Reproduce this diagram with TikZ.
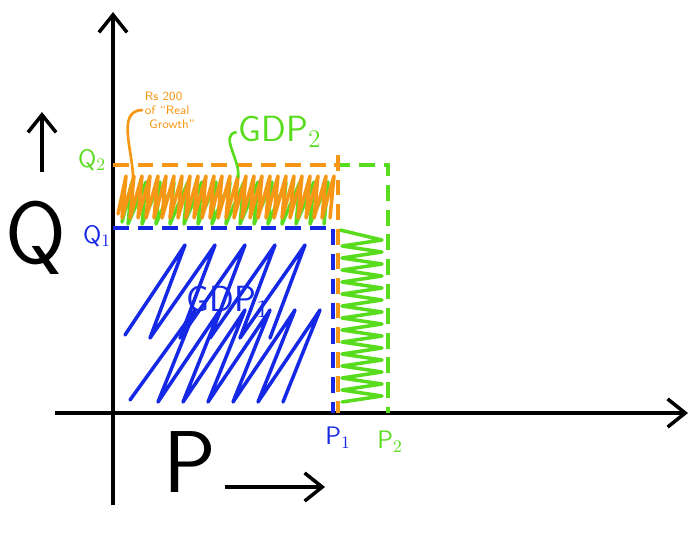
\documentclass[tikz,border=0pt]{standalone}
\usepackage{tikz}
\usetikzlibrary{positioning,arrows.meta}

\definecolor{penblue}{RGB}{20,40,230}
\definecolor{pengreen}{RGB}{90,220,30}
\definecolor{penorange}{RGB}{245,150,20}

\tikzset{
    axis/.style={line width=2pt, -{Straight Barb[length=10pt,width=16pt]}},
    dashline/.style={line width=2pt, dash pattern=on 9pt off 5pt},
    scribble/.style={line width=2pt, line join=round, line cap=round},
    hand/.style={font=\sffamily\Large, inner sep=1pt},
    bigletter/.style={font=\sffamily\fontsize{50}{50}\selectfont, inner sep=0pt}
}

\begin{document}
\begin{tikzpicture}[x=0.02cm,y=-0.02cm]
    \useasboundingbox (0,0) rectangle (700,532);

    % axes
    \coordinate (origin) at (113,413);
    \draw[axis] (113,505) -- (113,12);
    \draw[axis] (55,413) -- (688,413);

    % hatching (drawn first, dashes on top)
    \draw[scribble, penblue] (125,335)
        \foreach \i in {0,...,4} { -- ({185+30*\i},245) -- ({150+30*\i},338) };
    \draw[scribble, penblue] (130,400)
        \foreach \i in {0,...,5} { -- ({195+25*\i},310) -- ({158+25*\i},402) };
    \draw[scribble, pengreen] (122,222)
        \foreach \i in {0,...,14} { -- ({132+14*\i},182) -- ({128+14*\i},224) };
    \draw[scribble, pengreen] (340,230)
        \foreach \i in {0,...,13} { -- (382,{240+12*\i}) -- (342,{246+12*\i}) };
    \draw[scribble, penorange] (118,214)
        \foreach \i in {0,...,26} { -- ({126+8*\i},176) -- ({122+8*\i},218) };

    % price and quantity levels
    \draw[dashline, pengreen] (113,165) -- (388,165) -- (388,413);
    \draw[dashline, penorange] (113,165) -- (338,165);
    \draw[dashline, penorange] (338,155) -- (338,413);
    \draw[dashline, penblue] (113,228) -- (333,228) -- (333,413);

    % labels
    \node[hand, penblue] (pone) at (338,438) {P$_1$};
    \node[hand, pengreen] (ptwo) at (390,442) {P$_2$};
    \node[hand, pengreen] (qtwo) at (92,160) {Q$_2$};
    \node[hand, penblue] (qone) at (97,236) {Q$_1$};
    \node[hand, penblue, font=\sffamily\huge] (gdpone) at (228,302) {GDP$_1$};
    \node[hand, pengreen, font=\sffamily\huge] (gdptwo) at (280,132) {GDP$_2$};
    \node[hand, penorange, font=\sffamily\scriptsize, align=left] (note) at (170,110)
        {Rs 200\\ of ``Real\\ \ Growth''};

    \coordinate (gdptwo-end) at (238,178);
    \draw[line width=1.5pt, pengreen] (gdptwo.west) to[out=190,in=80] (gdptwo-end);
    \coordinate (note-end) at (133,178);
    \draw[line width=1.5pt, penorange] (note.west) to[out=180,in=90] (note-end);

    % axis names
    \node[bigletter] (plabel) at (190,462) {P};
    \node[bigletter] (qlabel) at (36,238) {Q};
    \coordinate (parrow-start) at (225,487);
    \coordinate (parrow-end) at (325,487);
    \draw[axis] (parrow-start) -- (parrow-end);
    \coordinate (qarrow-start) at (42,172);
    \coordinate (qarrow-end) at (42,112);
    \draw[axis] (qarrow-start) -- (qarrow-end);
\end{tikzpicture}
\end{document}
